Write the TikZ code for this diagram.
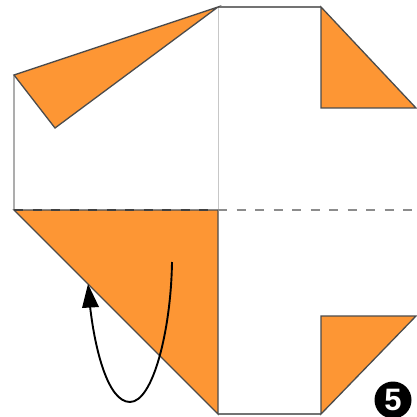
\documentclass[tikz,border=0pt]{standalone}
\usepackage{fontspec}
\setmainfont{Liberation Sans}
\definecolor{paper}{RGB}{253,150,52}
\tikzset{
  flap/.style={fill=paper,draw=black!70,line width=1.3pt,line join=miter},
  edge/.style={draw=black!55,line width=1.2pt},
  thinedge/.style={draw=black!22,line width=1pt},
  fold/.style={line width=1.5pt,dash pattern=on 9pt off 9.5pt},
  motion/.style={draw=black,line width=1.9pt}
}
\begin{document}
\begin{tikzpicture}[x=1pt,y=-1pt]
\useasboundingbox (0,0) rectangle (416,417);
\fill[white] (0,0) rectangle (416,417);
% named corners
\coordinate (a) at (14,75);
\coordinate (b) at (55,128);
\coordinate (c) at (218,7);
\coordinate (d) at (321,7);
\coordinate (e) at (321,108);
\coordinate (f) at (416,108);
\coordinate (g) at (14,210);
\coordinate (h) at (218,210);
\coordinate (i) at (218,414);
\coordinate (j) at (321,414);
\coordinate (k) at (321,316);
\coordinate (l) at (416,316);
\coordinate (m) at (416,210);
% paper outline
\draw[draw=black!32,line width=2pt] (a) -- (g);
\draw[thinedge] (c) -- (h);
\draw[edge] (c) -- (d);
\draw[edge] (i) -- (j);
% coloured flaps
\draw[flap] (a) -- (c) -- (b) -- cycle;
\draw[flap] (d) -- (f) -- (e) -- cycle;
\draw[flap] (g) -- (h) -- (i) -- cycle;
\draw[flap] (k) -- (l) -- (j) -- cycle;
% fold line
\draw[fold,draw=black!75] (g) -- (h);
\draw[fold,draw=black!45] (h) -- (m);
% motion arrow
\coordinate (s) at (172,262);
\coordinate (t) at (90,306);
\coordinate (tip) at (88,284);
\draw[motion] (s) .. controls (171,330) and (153,402) .. (130,402)
  .. controls (108,402) and (95,350) .. (t);
\fill[black] (tip) -- (99,307) -- (82,308) -- cycle;
% step badge
\node[circle,fill=black,minimum size=37pt,inner sep=0pt,text=white,font=\bfseries\fontsize{31}{31}\selectfont] (badge) at (393,400) {5};
\end{tikzpicture}
\end{document}
